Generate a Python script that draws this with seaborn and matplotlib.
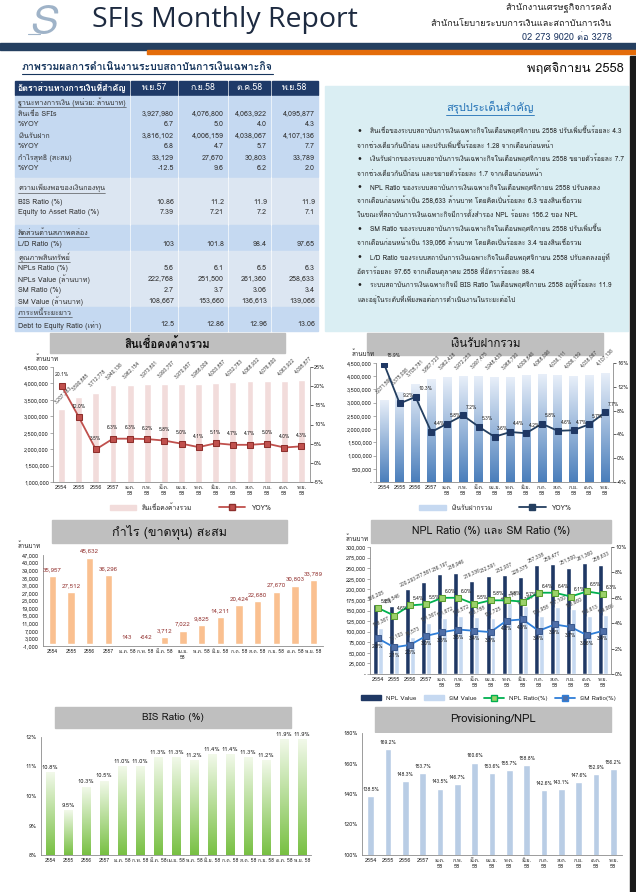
import numpy as np
import pandas as pd
import matplotlib
matplotlib.use('Agg')
import matplotlib.pyplot as plt
import seaborn as sns
from matplotlib import font_manager
from matplotlib.ft2font import FT2Font
from matplotlib.patches import Rectangle, Patch
from matplotlib.lines import Line2D
from matplotlib.colors import LinearSegmentedColormap

# -----------------------------
# data
# -----------------------------
months = ['2554', '2555', '2556', '2557', 'ม.ค. 58', 'ก.พ. 58', 'มี.ค. 58', 'เม.ย. 58',
          'พ.ค. 58', 'มิ.ย. 58', 'ก.ค. 58', 'ส.ค. 58', 'ก.ย. 58', 'ต.ค. 58', 'พ.ย. 58']

loans = [3207383, 3590885, 3712778, 3940136, 3962154, 3973801, 3993707, 3970957,
         3988009, 4003857, 4032783, 4068932, 4076800, 4063922, 4095877]
loans_yoy = [20.1, 12.0, 3.5, 6.3, 6.3, 6.2, 5.8, 5.0, 4.1, 5.1, 4.7, 4.7, 5.0, 4.0, 4.3]

deposits = [3071566, 3375006, 3705781, 3867723, 3962428, 3972253, 3997475, 3948433,
            3968790, 4009846, 4068096, 4036111, 4006159, 4038067, 4107136]
deposits_yoy = [15.9, 9.2, 10.3, 4.4, 5.8, 7.2, 5.3, 3.6, 4.4, 4.2, 5.8, 4.6, 4.7, 5.7, 7.7]

profit = [35957, 27512, 45632, 36296, 143, -642, 3712, 7022, 9825, 14211,
          20424, 22680, 27670, 30803, 33789]

npl_value = [166205, 159546, 200293, 217561, 236197, 238946, 219336, 232591,
             232937, 228375, 257338, 259477, 251500, 261360, 258633]
sm_value = [108367, 73103, 86573, 121367, 131672, 136572, 133788, 132725,
            166778, 160780, 136958, 157100, 153660, 136613, 139066]
npl_ratio = [5.2, 4.6, 5.4, 5.5, 6.0, 6.0, 5.5, 5.8, 5.8, 5.7, 6.4, 6.4, 6.1, 6.5, 6.3]
sm_ratio = [2.8, 2.1, 2.3, 3.0, 3.3, 3.5, 3.4, 3.3, 4.2, 4.3, 3.4, 3.9, 3.7, 3.06, 3.4]

bis_ratio = [10.8, 9.5, 10.3, 10.5, 11.0, 11.0, 11.3, 11.3, 11.2, 11.4, 11.4, 11.3, 11.2, 11.9, 11.9]
provisioning = [138.5, 169.2, 148.3, 153.7, 143.5, 146.7, 160.6, 153.6, 155.7, 158.8,
                142.6, 143.1, 147.6, 152.9, 156.2]

table_cols = ['พ.ย.57', 'ก.ย.58', 'ต.ค.58', 'พ.ย.58']
sec1_rows = [('สินเชื่อ SFIs', ['3,927,980', '4,076,800', '4,063,922', '4,095,877']),
             ('%YOY', ['6.7', '5.0', '4.0', '4.3']),
             ('เงินรับฝาก', ['3,816,102', '4,006,159', '4,038,067', '4,107,136']),
             ('%YOY', ['6.8', '4.7', '5.7', '7.7']),
             ('กำไรสุทธิ (สะสม)', ['33,129', '27,670', '30,803', '33,789']),
             ('%YOY', ['-12.5', '9.6', '6.2', '2.0'])]
sec2_rows = [('BIS Ratio (%)', ['10.86', '11.2', '11.9', '11.9']),
             ('Equity to Asset Ratio (%)', ['7.39', '7.21', '7.2', '7.1'])]
sec3_rows = [('L/D Ratio (%)', ['103', '101.8', '98.4', '97.65'])]
sec4_rows = [('NPLs Ratio (%)', ['5.6', '6.1', '6.5', '6.3']),
             ('NPLs Value (ล้านบาท)', ['222,768', '251,500', '261,360', '258,633']),
             ('SM Ratio (%)', ['2.7', '3.7', '3.06', '3.4']),
             ('SM Value (ล้านบาท)', ['108,667', '153,660', '136,613', '139,066'])]
sec5_rows = [('Debt to Equity Ratio (เท่า)', ['12.5', '12.86', '12.96', '13.06'])]

summary = [
    ['สินเชื่อของระบบสถาบันการเงินเฉพาะกิจในเดือนพฤศจิกายน 2558 ปรับเพิ่มขึ้นร้อยละ 4.3',
     'จากช่วงเดียวกันปีก่อน และปรับเพิ่มขึ้นร้อยละ 1.28 จากเดือนก่อนหน้า'],
    ['เงินรับฝากของระบบสถาบันการเงินเฉพาะกิจในเดือนพฤศจิกายน 2558 ขยายตัวร้อยละ 7.7',
     'จากช่วงเดียวกันปีก่อน และขยายตัวร้อยละ 1.7 จากเดือนก่อนหน้า'],
    ['NPL Ratio ของระบบสถาบันการเงินเฉพาะกิจในเดือนพฤศจิกายน 2558 ปรับลดลง',
     'จากเดือนก่อนหน้าเป็น 258,633 ล้านบาท โดยคิดเป็นร้อยละ 6.3 ของสินเชื่อรวม',
     'ในขณะที่สถาบันการเงินเฉพาะกิจมีการตั้งสำรอง NPL ร้อยละ 156.2 ของ NPL'],
    ['SM Ratio ของระบบสถาบันการเงินเฉพาะกิจในเดือนพฤศจิกายน 2558 ปรับเพิ่มขึ้น',
     'จากเดือนก่อนหน้าเป็น 139,066 ล้านบาท โดยคิดเป็นร้อยละ 3.4 ของสินเชื่อรวม'],
    ['L/D Ratio ของระบบสถาบันการเงินเฉพาะกิจในเดือนพฤศจิกายน 2558 ปรับลดลงอยู่ที่',
     'อัตราร้อยละ 97.65 จากเดือนตุลาคม 2558 ที่อัตราร้อยละ 98.4'],
    ['ระบบสถาบันการเงินเฉพาะกิจมี BIS Ratio ในเดือนพฤศจิกายน 2558 อยู่ที่ร้อยละ 11.9',
     'และอยู่ในระดับที่เพียงพอต่อการดำเนินงานในระยะต่อไป'],
]

# -----------------------------
# fonts (need one with Thai glyphs)
# -----------------------------
sns.set_theme(style='white')
thai_fonts = []
for f in font_manager.fontManager.ttflist:
    try:
        if FT2Font(f.fname).get_char_index(0x0E01) and f.name not in thai_fonts:
            thai_fonts.append(f.name)
    except Exception:
        pass
pref = [n for n in ['Loma', 'Tahoma', 'Noto Sans Thai'] if n in thai_fonts]
main_font = (pref or thai_fonts)[:1]
plt.rcParams['font.family'] = main_font + ['DejaVu Sans']
plt.rcParams['axes.unicode_minus'] = False

W, H = 636, 892
fig = plt.figure(figsize=(W / 100, H / 100), dpi=100)
bg = fig.add_axes([0, 0, 1, 1])
bg.set_xlim(0, W)
bg.set_ylim(H, 0)
bg.axis('off')


def px_axes(x0, y0, x1, y1):
    return fig.add_axes([x0 / W, 1 - y1 / H, (x1 - x0) / W, (y1 - y0) / H])


def underline(t, color, lw=0.6, gap=1.0):
    r = fig.canvas.get_renderer()
    bb = t.get_window_extent(r)
    inv = bg.transData.inverted()
    (xa, ya), (xb, yb) = inv.transform([[bb.x0, bb.y0], [bb.x1, bb.y1]])
    yy = max(ya, yb) + gap
    bg.plot([xa, xb], [yy, yy], color=color, lw=lw)


def style_axes(ax, wrap=True, xsize=4.0):
    for s in ['top', 'right']:
        ax.spines[s].set_visible(False)
    for s in ['left', 'bottom']:
        ax.spines[s].set_color('#8c8c8c')
        ax.spines[s].set_linewidth(0.6)
    ax.set_xlabel('')
    ax.set_ylabel('')
    labels = [m.replace(' ', '\n') if (wrap and ' ' in m) else m for m in months]
    ax.set_xticks(range(len(months)))
    ax.set_xticklabels(labels)
    ax.set_xticks(np.arange(-0.5, len(months), 1), minor=True)
    ax.tick_params(axis='x', which='major', length=0, labelsize=xsize, pad=2, colors='#222')
    ax.tick_params(axis='x', which='minor', length=2, width=0.5, color='#8c8c8c')
    ax.tick_params(axis='y', length=2, width=0.5, labelsize=4.0, pad=1, colors='#222')
    ax.tick_params(axis='y', color='#8c8c8c')
    ax.set_xlim(-0.5, len(months) - 0.5)


def right_axis(ax2, lo, hi, step):
    ax2.set_ylim(lo, hi)
    ticks = list(range(lo, hi + 1, step))
    ax2.set_yticks(ticks)
    ax2.set_yticklabels([f'{v}%' for v in ticks])
    ax2.set_ylabel('')
    for s in ['top', 'left', 'bottom']:
        ax2.spines[s].set_visible(False)
    ax2.spines['right'].set_color('#8c8c8c')
    ax2.spines['right'].set_linewidth(0.6)
    ax2.tick_params(axis='y', length=2, width=0.5, labelsize=4.0, pad=1, colors='#222')
    ax2.set_xlim(-0.5, len(months) - 0.5)


def gradient_bars(ax, top, bottom):
    cmap = LinearSegmentedColormap.from_list('g', [bottom, top])
    xl, yl = ax.get_xlim(), ax.get_ylim()
    grad = np.linspace(0, 1, 256).reshape(-1, 1)
    for p in ax.patches:
        x0, w, h = p.get_x(), p.get_width(), p.get_height()
        ylo = max(p.get_y(), yl[0])
        ax.imshow(grad, extent=[x0, x0 + w, ylo, p.get_y() + h], origin='lower',
                  aspect='auto', cmap=cmap, zorder=1)
        p.set_facecolor('none')
        p.set_edgecolor('none')
    ax.set_xlim(xl)
    ax.set_ylim(yl)


def title_box(x0, y0, x1, y1, text, size=9.5, weight='normal'):
    bg.add_patch(Rectangle((x0, y0), x1 - x0, y1 - y0, color='#bfbfbf', zorder=1))
    bg.text((x0 + x1) / 2, (y0 + y1) / 2, text, ha='center', va='center',
            fontsize=size, weight=weight, color='#111', zorder=2)


# -----------------------------
# header
# -----------------------------
bg.text(42, 24, 'S', fontsize=30, color='#9fb3c8', ha='center', va='center', style='italic')
bg.plot([28, 40], [34, 34], color='#9fb3c8', lw=0.8)
bg.text(92, 20, 'SFIs Monthly Report', fontsize=20.5, color='#1d2a40', va='center',
        family=['Open Sans', 'DejaVu Sans'])
bg.text(612, 8, 'สำนักงานเศรษฐกิจการคลัง', ha='right', va='center', fontsize=6.6, color='#222')
bg.text(612, 23, 'สำนักนโยบายระบบการเงินและสถาบันการเงิน', ha='right', va='center',
        fontsize=6.6, color='#222')
bg.text(612, 38, '02 273 9020 ต่อ 3278', ha='right', va='center', fontsize=6.6, color='#1f3864')
bg.add_patch(Rectangle((0, 43), W, 7, color='#243f60'))
bg.add_patch(Rectangle((147, 50), W - 147, 4, color='#e46c0a'))
bg.add_patch(Rectangle((630, 56), 6, H - 56, color='#1a1a1a', zorder=5))

t = bg.text(22, 68, 'ภาพรวมผลการดำเนินงานระบบสถาบันการเงินเฉพาะกิจ', fontsize=7.6,
            weight='bold', color='#17365d', va='center')
underline(t, '#17365d', lw=0.8)
bg.text(624, 68, 'พฤศจิกายน 2558', fontsize=9.3, ha='right', va='center', color='#111')

# -----------------------------
# table
# -----------------------------
col_edges = [(15, 129), (131, 177), (179, 227), (229, 270), (272, 318)]
for i, (x0, x1) in enumerate(col_edges):
    bg.add_patch(Rectangle((x0, 81), x1 - x0, 14, color='#1f3a68'))
    if i == 0:
        bg.text(x0 + 3, 88, 'อัตราส่วนทางการเงินที่สำคัญ', color='white', fontsize=6.3,
                weight='bold', va='center')
    else:
        bg.text((x0 + x1) / 2, 88, table_cols[i - 1], color='white', fontsize=6.3,
                ha='center', va='center')

bands = [(96, 178, '#c5d9f1'), (178, 225, '#dce6f2'), (225, 251, '#c5d9f1'),
         (251, 307, '#dce6f2'), (307, 332, '#c5d9f1')]
for y0, y1, c in bands:
    for x0, x1 in col_edges:
        bg.add_patch(Rectangle((x0, y0), x1 - x0, y1 - y0 - 0.6, color=c))

sections = [('ฐานะทางการเงิน (หน่วย: ล้านบาท)', 102, sec1_rows, [114, 125, 136, 147, 158, 169]),
            ('ความเพียงพอของเงินกองทุน', 188, sec2_rows, [202, 213]),
            ('สัดส่วนด้านสภาพคล่อง', 233, sec3_rows, [245]),
            ('คุณภาพสินทรัพย์', 257, sec4_rows, [268, 279, 290, 301]),
            ('ภาระหนี้ระยะยาว', 313, sec5_rows, [325])]
for title, ty, rows, ys in sections:
    t = bg.text(18, ty, title, fontsize=5.2, color='#333', va='center')
    underline(t, '#333', lw=0.4, gap=0.5)
    for (label, vals), y in zip(rows, ys):
        bg.text(18, y, label, fontsize=5.2, color='#333', va='center')
        for (x0, x1), v in zip(col_edges[1:], vals):
            bg.text(x1 - 3, y, v, fontsize=5.2, color='#333', va='center', ha='right')

# -----------------------------
# summary box
# -----------------------------
bg.add_patch(Rectangle((325, 86), 303, 245, color='#daeef3'))
t = bg.text(490, 107, 'สรุปประเด็นสำคัญ', fontsize=8, color='#1f6fb5', ha='center', va='center')
underline(t, '#1f6fb5', lw=0.6)
bullet_y = [[131, 146], [159, 174], [188, 201, 215], [229, 243], [257, 271], [285, 299]]
for lines, ys in zip(summary, bullet_y):
    bg.text(359, ys[0], '•', fontsize=6, color='#222', va='center', ha='center')
    for k, (line, y) in enumerate(zip(lines, ys)):
        bg.text(370 if k == 0 else 357, y, line, fontsize=4.75, color='#222', va='center')

# -----------------------------
# chart 1: loans
# -----------------------------
title_box(50, 333, 285, 353, 'สินเชื่อคงค้างรวม', size=8.2, weight='bold')
ax = px_axes(53, 367, 310, 482)
df1 = pd.DataFrame({'m': months, 'v': loans})
sns.barplot(data=df1, x='m', y='v', color='#f2dcdb', saturation=1, width=0.4, ax=ax)
ax.set_ylim(1e6, 4.5e6)
yt = np.arange(1e6, 4.51e6, 5e5)
ax.set_yticks(yt)
ax.set_yticklabels([f'{v:,.0f}' for v in yt])
style_axes(ax)
for i, v in enumerate(loans):
    ax.annotate(f'{v:,.0f}', (i, v), xytext=(1, 11), textcoords='offset points', rotation=45,
                ha='center', va='center', fontsize=3.6, color='#444')
ax2 = ax.twinx()
sns.lineplot(x=np.arange(len(months)), y=loans_yoy, ax=ax2, color='#c0504d', lw=1.3,
             marker='s', markersize=5, markerfacecolor='#c0504d', markeredgecolor='#8e2f2c')
right_axis(ax2, -5, 25, 5)
for i, v in enumerate(loans_yoy):
    ax2.annotate(f'{v:.1f}%', (i, v), xytext=(0, 6), textcoords='offset points',
                 ha='center', va='bottom', fontsize=3.6, color='#222')
bg.text(36, 358, 'ล้านบาท', fontsize=4.5, color='#222', va='center')
fig.legend(handles=[Patch(color='#f2dcdb', label='สินเชื่อคงค้างรวม'),
                    Line2D([], [], color='#c0504d', marker='s', markersize=4,
                           markeredgecolor='#8e2f2c', lw=1.3, label='YOY%')],
           loc='center', bbox_to_anchor=(190 / W, 1 - 508 / H), ncol=2, frameon=False,
           fontsize=4.8, handlelength=4, columnspacing=4)

# -----------------------------
# chart 2: deposits
# -----------------------------
title_box(367, 333, 603, 355, 'เงินรับฝากรวม', size=8.2)
ax = px_axes(376, 363, 613, 482)
df2 = pd.DataFrame({'m': months, 'v': deposits})
sns.barplot(data=df2, x='m', y='v', color='#9fbbe0', saturation=1, width=0.55, ax=ax)
ax.set_ylim(0, 4.5e6)
yt = np.arange(0, 4.51e6, 5e5)
ax.set_yticks(yt)
ax.set_yticklabels(['-'] + [f'{v:,.0f}' for v in yt[1:]])
style_axes(ax)
gradient_bars(ax, '#e8eff9', '#4a7ebb')
for i, v in enumerate(deposits):
    ax.annotate(f'{v:,.0f}', (i, v), xytext=(0, 12), textcoords='offset points', rotation=45,
                ha='center', va='center', fontsize=3.6, color='#444')
ax2 = ax.twinx()
sns.lineplot(x=np.arange(len(months)), y=deposits_yoy, ax=ax2, color='#243f60', lw=1.3,
             marker='s', markersize=4.5, markerfacecolor='#1f3864', markeredgecolor='#1f3864')
right_axis(ax2, -4, 16, 4)
for i, v in enumerate(deposits_yoy):
    ax2.annotate(f'{v:.1f}%', (i, v), xytext=(2, 4), textcoords='offset points',
                 ha='left', va='bottom', fontsize=3.6, color='#222')
bg.text(352, 353, 'ล้านบาท', fontsize=4.5, color='#222', va='center')
fig.legend(handles=[Patch(color='#c6d9f1', label='เงินรับฝากรวม'),
                    Line2D([], [], color='#243f60', marker='s', markersize=4, lw=1.3,
                           label='YOY%')],
           loc='center', bbox_to_anchor=(495 / W, 1 - 508 / H), ncol=2, frameon=False,
           fontsize=4.8, handlelength=4, columnspacing=4)

# -----------------------------
# chart 3: profit
# -----------------------------
title_box(52, 520, 287, 543, 'กำไร (ขาดทุน) สะสม', size=9)
ax = px_axes(43, 555, 323, 646)
df3 = pd.DataFrame({'m': months, 'v': profit})
sns.barplot(data=df3, x='m', y='v', color='#fac090', saturation=1, width=0.38, ax=ax)
ax.set_ylim(-1000, 47000)
yt = np.arange(-1000, 47001, 4000)
ax.set_yticks(yt)
ax.set_yticklabels([f'{v:,.0f}' for v in yt])
style_axes(ax, wrap=False, xsize=3.6)
ax.set_xticklabels([m.replace(' ', '\n') if m.startswith('เม') else m for m in months])
for i, v in enumerate(profit):
    ax.annotate(f'{v:,.0f}', (i, max(v, 0)), xytext=(0, 3), textcoords='offset points',
                ha='center', va='bottom', fontsize=4.5, color='#953735')
bg.text(18, 545, 'ล้านบาท', fontsize=4.5, color='#222', va='center')

# -----------------------------
# chart 4: NPL / SM
# -----------------------------
title_box(371, 520, 611, 543, 'NPL Ratio (%) และ SM Ratio (%)', size=7.6)
ax = px_axes(370, 547, 611, 674)
df4 = pd.DataFrame({'m': months * 2, 'v': npl_value + sm_value,
                    's': ['NPL Value'] * len(months) + ['SM Value'] * len(months)})
sns.barplot(data=df4, x='m', y='v', hue='s', palette=['#1f3864', '#c6d9f1'], saturation=1,
            width=0.62, ax=ax, legend=False)
ax.set_ylim(0, 300000)
yt = np.arange(0, 300001, 25000)
ax.set_yticks(yt)
ax.set_yticklabels(['-'] + [f'{v:,.0f}' for v in yt[1:]])
style_axes(ax)
for i, v in enumerate(npl_value):
    ax.annotate(f'{v:,.0f}', (i - 0.15, v), xytext=(0, 6), textcoords='offset points',
                rotation=25, ha='center', va='center', fontsize=3.6, color='#444')
for i, v in enumerate(sm_value):
    ax.annotate(f'{v:,.0f}', (i + 0.15, v), xytext=(0, 5), textcoords='offset points',
                rotation=25, ha='center', va='center', fontsize=3.6, color='#444')
ax2 = ax.twinx()
sns.lineplot(x=np.arange(len(months)), y=npl_ratio, ax=ax2, color='#00b050', lw=1.3,
             marker='s', markersize=4.5, markerfacecolor='#9bd16a', markeredgecolor='#5a9e2e')
sns.lineplot(x=np.arange(len(months)), y=sm_ratio, ax=ax2, color='#2f7ed8', lw=1.3,
             marker='s', markersize=4.5, markerfacecolor='#4f6fa8', markeredgecolor='#3b5a8f')
right_axis(ax2, 0, 10, 2)
for i, v in enumerate(npl_ratio):
    ax2.annotate(f'{v:.1f}%', (i, v), xytext=(2, 3), textcoords='offset points',
                 ha='left', va='bottom', fontsize=3.6, color='#222')
for i, v in enumerate(sm_ratio):
    ax2.annotate(f'{v}%', (i, v), xytext=(0, -4), textcoords='offset points',
                 ha='center', va='top', fontsize=3.6, color='#222')
bg.text(346, 538, 'ล้านบาท', fontsize=4.5, color='#222', va='center')
fig.legend(handles=[Patch(color='#1f3864', label='NPL Value'),
                    Patch(color='#c6d9f1', label='SM Value'),
                    Line2D([], [], color='#00b050', marker='s', markersize=4, lw=1.3,
                           markerfacecolor='#9bd16a', label='NPL Ratio(%)'),
                    Line2D([], [], color='#2f7ed8', marker='s', markersize=4, lw=1.3,
                           markerfacecolor='#4f6fa8', label='SM Ratio(%)')],
           loc='center', bbox_to_anchor=(488 / W, 1 - 698 / H), ncol=4, frameon=False,
           fontsize=4.5, handlelength=3.2, columnspacing=1.2)

# -----------------------------
# chart 5: BIS ratio
# -----------------------------
title_box(55, 707, 291, 728, 'BIS Ratio (%)', size=7.2)
ax = px_axes(41, 737, 311, 855)
df5 = pd.DataFrame({'m': months, 'v': bis_ratio})
sns.barplot(data=df5, x='m', y='v', color='#a9d47f', saturation=1, width=0.5, ax=ax)
ax.set_ylim(8, 12)
ax.set_yticks(range(8, 13))
ax.set_yticklabels([f'{v}%' for v in range(8, 13)])
style_axes(ax, wrap=False, xsize=3.6)
gradient_bars(ax, '#f2f9ea', '#78c043')
for i, v in enumerate(bis_ratio):
    ax.annotate(f'{v:.1f}%', (i, v), xytext=(0, 2), textcoords='offset points',
                ha='center', va='bottom', fontsize=4.2, color='#222')

# -----------------------------
# chart 6: provisioning / NPL
# -----------------------------
title_box(375, 707, 611, 732, 'Provisioning/NPL', size=8)
ax = px_axes(362, 733, 622, 855)
df6 = pd.DataFrame({'m': months, 'v': provisioning})
sns.barplot(data=df6, x='m', y='v', color='#b9cde5', saturation=1, width=0.4, ax=ax)
ax.set_ylim(100, 180)
ax.set_yticks(range(100, 181, 20))
ax.set_yticklabels([f'{v}%' for v in range(100, 181, 20)])
style_axes(ax)
for i, v in enumerate(provisioning):
    ax.annotate(f'{v:.1f}%', (i, v), xytext=(0, 3), textcoords='offset points',
                ha='center', va='bottom', fontsize=3.6, color='#222')

fig.savefig('out.png', dpi=100)
